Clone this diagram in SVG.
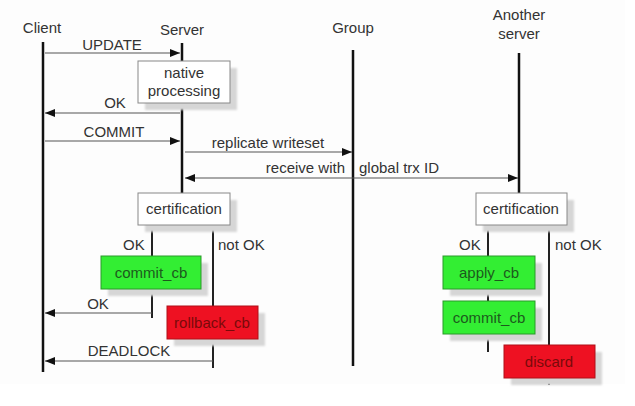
<svg xmlns="http://www.w3.org/2000/svg" width="635" height="406" viewBox="0 0 635 406">
<defs>
<marker id="ah" viewBox="0 0 10 8" refX="10" refY="4" markerWidth="10" markerHeight="8" markerUnits="userSpaceOnUse" orient="auto-start-reverse">
<path d="M0,0 L10,4 L0,8 z" fill="#111"/>
</marker>
<filter id="sh" x="-10%" y="-10%" width="130%" height="140%">
<feGaussianBlur stdDeviation="1"/>
</filter>
</defs>
<style>
text{font-family:"Liberation Sans",Arial,sans-serif;font-size:15px;fill:#333}
.c{text-anchor:middle}
.life{stroke:#111;stroke-width:2.5;fill:none}
.msg{stroke:#555;stroke-width:1.2;fill:none}
.br{stroke:#222;stroke-width:2;fill:none}
.shadow{fill:#d6d6d6}
.white{fill:#fff;stroke:#888;stroke-width:1}
.green{fill:#33ee33;stroke:#2a9a2a;stroke-width:1}
.red{fill:#ee1122;stroke:#b01018;stroke-width:1}
.gt{fill:#1d5a1d}
.rt{fill:#7a0a0a}
</style>
<rect x="0" y="0" width="625" height="384" fill="#fdfdfd"/>
<g id="connectors">
<line class="life" x1="43" y1="42" x2="43" y2="372"/>
<line class="life" x1="182" y1="43" x2="182" y2="193"/>
<line class="life" x1="353" y1="50" x2="353" y2="366"/>
<line class="life" x1="519" y1="53" x2="519" y2="193"/>
<line class="msg" x1="45" y1="53" x2="180" y2="53" marker-end="url(#ah)"/>
<line class="msg" x1="180" y1="113" x2="45" y2="113" marker-end="url(#ah)"/>
<line class="msg" x1="45" y1="141" x2="180" y2="141" marker-end="url(#ah)"/>
<line class="msg" x1="185" y1="152" x2="352" y2="152" marker-end="url(#ah)"/>
<line class="msg" x1="185" y1="178" x2="518" y2="178" marker-start="url(#ah)" marker-end="url(#ah)"/>
<line class="br" x1="152" y1="225" x2="152" y2="256"/>
<line class="br" x1="152" y1="289" x2="152" y2="318"/>
<line class="br" x1="213" y1="225" x2="213" y2="306"/>
<line class="br" x1="213" y1="339" x2="213" y2="368"/>
<line class="msg" x1="152" y1="313" x2="45" y2="313" marker-end="url(#ah)"/>
<line class="msg" x1="213" y1="361" x2="45" y2="361" marker-end="url(#ah)"/>
<line class="br" x1="488" y1="225" x2="488" y2="256"/>
<line class="br" x1="488" y1="289" x2="488" y2="301"/>
<line class="br" x1="488" y1="334" x2="488" y2="352"/>
<line class="br" x1="549" y1="225" x2="549" y2="345"/>
<line class="br" x1="549" y1="378" x2="549" y2="385"/>
<text class="c" x="112" y="50">UPDATE</text>
<text class="c" x="115" y="108">OK</text>
<text class="c" x="114" y="137">COMMIT</text>
<text class="c" x="268" y="148">replicate writeset</text>
<text x="345" y="173" text-anchor="end">receive with</text>
<text x="359" y="173">global trx ID</text>
<text x="123" y="250">OK</text>
<text x="218" y="250">not OK</text>
<text class="c" x="98" y="309">OK</text>
<text class="c" x="129" y="356">DEADLOCK</text>
<text x="459" y="250">OK</text>
<text x="555" y="250">not OK</text>
</g>
<g id="client"><text class="c" x="42" y="33">Client</text></g>
<g id="server"><text class="c" x="182" y="35">Server</text></g>
<g id="group"><text class="c" x="353" y="33">Group</text></g>
<g id="another-server"><text class="c" x="519" y="20">Another</text><text class="c" x="519" y="39">server</text></g>
<g id="native-processing">
<rect class="shadow" x="145" y="68" width="92" height="42" filter="url(#sh)"/>
<rect class="white" x="138" y="61" width="92" height="42"/>
<text class="c" x="184" y="78">native</text>
<text class="c" x="184" y="96">processing</text>
</g>
<g id="certification-server">
<rect class="shadow" x="145" y="200" width="92" height="32" filter="url(#sh)"/>
<rect class="white" x="138" y="193" width="92" height="32"/>
<text class="c" x="184" y="214">certification</text>
</g>
<g id="commit-cb-server">
<rect class="shadow" x="108" y="263" width="100" height="33" filter="url(#sh)"/>
<rect class="green" x="101" y="256" width="100" height="33"/>
<text class="c gt" x="151" y="278">commit_cb</text>
</g>
<g id="rollback-cb">
<rect class="shadow" x="174" y="313" width="91" height="33" filter="url(#sh)"/>
<rect class="red" x="167" y="306" width="91" height="33"/>
<text class="c rt" x="212" y="328">rollback_cb</text>
</g>
<g id="certification-another">
<rect class="shadow" x="483" y="200" width="91" height="32" filter="url(#sh)"/>
<rect class="white" x="476" y="193" width="91" height="32"/>
<text class="c" x="521" y="214">certification</text>
</g>
<g id="apply-cb">
<rect class="shadow" x="450" y="263" width="92" height="33" filter="url(#sh)"/>
<rect class="green" x="443" y="256" width="92" height="33"/>
<text class="c gt" x="489" y="278">apply_cb</text>
</g>
<g id="commit-cb-another">
<rect class="shadow" x="450" y="308" width="92" height="33" filter="url(#sh)"/>
<rect class="green" x="443" y="301" width="92" height="33"/>
<text class="c gt" x="489" y="323">commit_cb</text>
</g>
<g id="discard">
<rect class="shadow" x="511" y="352" width="91" height="33" filter="url(#sh)"/>
<rect class="red" x="504" y="345" width="91" height="33"/>
<text class="c rt" x="549" y="367">discard</text>
</g>
</svg>
